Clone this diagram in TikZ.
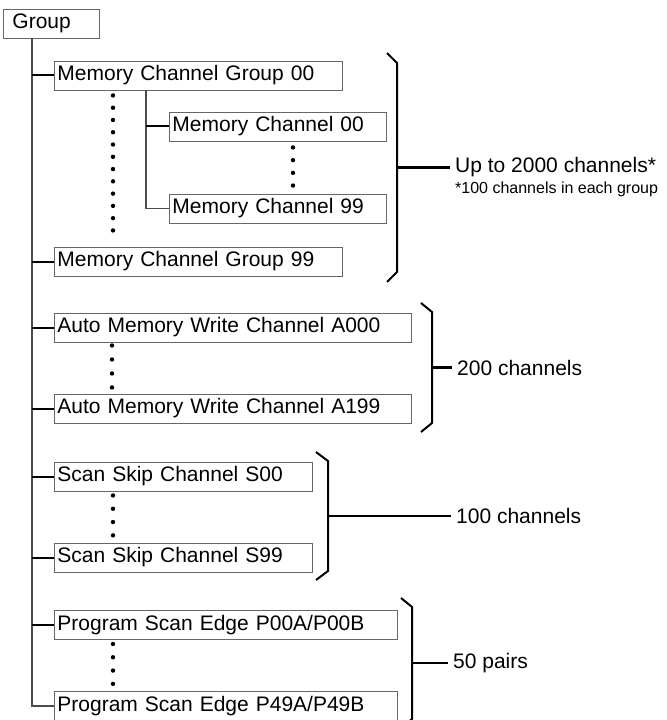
\documentclass[tikz,border=0pt]{standalone}
\usepackage{fontspec}
\setmainfont{Liberation Sans}
\usetikzlibrary{calc}
\tikzset{
  chbox/.style={rectangle, draw=black!60, line width=0.9bp, anchor=west,
    inner xsep=3bp, inner ysep=0pt, minimum height=29bp, align=left,
    font=\fontsize{21bp}{25bp}\selectfont},
  trunk/.style={draw=black!70, line width=1.3bp},
  branch/.style={draw=black, line width=2bp},
  dotcol/.style={line width=4.4bp, line cap=round, dash pattern=on 0bp off #1},
  dotcol/.default=13.3bp,
  brk/.style={draw=black, line width=2bp},
  sumlab/.style={anchor=west, inner xsep=5bp, inner ysep=0pt,
    font=\fontsize{21bp}{25bp}\selectfont},
  notelab/.style={anchor=west, inner xsep=5bp, inner ysep=0pt,
    font=\fontsize{16bp}{19bp}\selectfont},
  sumline/.style={draw=black, line width=2.2bp},
}

\begin{document}
\begin{tikzpicture}[x=1bp, y=-1bp]
  \useasboundingbox (0,0) rectangle (667,720);

  % tree of boxes
  \node (grp) [chbox, inner xsep=9bp, text width=78bp] at (3,23.5) {Group};
  \node (mcg00) [chbox, text width=282bp] at (54,75.5) {Memory Channel Group 00};
  \node (mc00) [chbox, text width=211bp] at (169,126.5) {Memory Channel 00};
  \node (mc99) [chbox, text width=211bp] at (169,208.5) {Memory Channel 99};
  \node (mcg99) [chbox, text width=282bp] at (54,261.5) {Memory Channel Group 99};
  \node (aw000) [chbox, text width=351bp] at (54,327.5) {Auto Memory Write Channel A000};
  \node (aw199) [chbox, text width=351bp] at (54,408.5) {Auto Memory Write Channel A199};
  \node (ss00) [chbox, text width=252bp] at (54,476.5) {Scan Skip Channel S00};
  \node (ss99) [chbox, text width=252bp] at (54,557.5) {Scan Skip Channel S99};
  \node (pe00) [chbox, text width=337bp] at (54,625) {Program Scan Edge P00A/P00B};
  \node (pe49) [chbox, text width=337bp] at (54,706) {Program Scan Edge P49A/P49B};

  % main trunk
  \coordinate (root) at ([xshift=29bp]grp.south west);
  \draw[trunk] (root) |- (pe49.west);
  \foreach \b in {mcg00,mcg99,aw000,aw199,ss00,ss99,pe00}
    \draw[branch] (root |- \b.west) -- (\b.west);

  % channels inside group 00
  \coordinate (sub) at ([xshift=92bp]mcg00.south west);
  \draw[trunk] (sub) |- (mc99.west);
  \draw[branch] (sub |- mc00.west) -- (mc00.west);

  % dotted runs
  \draw[dotcol=12.27bp] ($(mcg00.south west)+(59,5)$) -- ($(mcg99.north west)+(59,-15)$);
  \draw[dotcol=12.7bp] ($(mc00.south west)+(124,6)$) -- ($(mc99.north west)+(124,-7)$);
  \draw[dotcol=14bp] ($(aw000.south west)+(58,3)$) -- ($(aw199.north west)+(58,-5)$);
  \draw[dotcol] ($(ss00.south west)+(59,4)$) -- ($(ss99.north west)+(59,-6)$);
  \draw[dotcol] ($(pe00.south west)+(59,4)$) -- ($(pe49.north west)+(59,-7)$);

  % brackets
  \draw[brk] (387,53) -- (397,63) -- (397,272) -- (387,282);
  \coordinate (b1) at (397,167.5);
  \draw[brk] (421,303) -- (432,312) -- (432,423) -- (421,432);
  \coordinate (b2) at (432,367.5);
  \draw[brk] (316,452) -- (328,461) -- (328,571) -- (316,580);
  \coordinate (b3) at (328,516);
  \draw[brk] (401,598) -- (412,607) -- (412,719) -- (401,728);
  \coordinate (b4) at (412,663);

  % counts
  \node (lab1) [sumlab] at (450,167.5) {Up to 2000 channels*};
  \node (note) [notelab] at (450,189) {*100 channels in each group};
  \node (lab2) [sumlab] at (452,367.5) {200 channels};
  \node (lab3) [sumlab] at (451,516) {100 channels};
  \node (lab4) [sumlab] at (448,663) {50 pairs};

  \draw[sumline] (b1) -- (lab1.west);
  \draw[sumline] (b2) -- (lab2.west);
  \draw[sumline] (b3) -- (lab3.west);
  \draw[sumline] (b4) -- (lab4.west);
\end{tikzpicture}
\end{document}
